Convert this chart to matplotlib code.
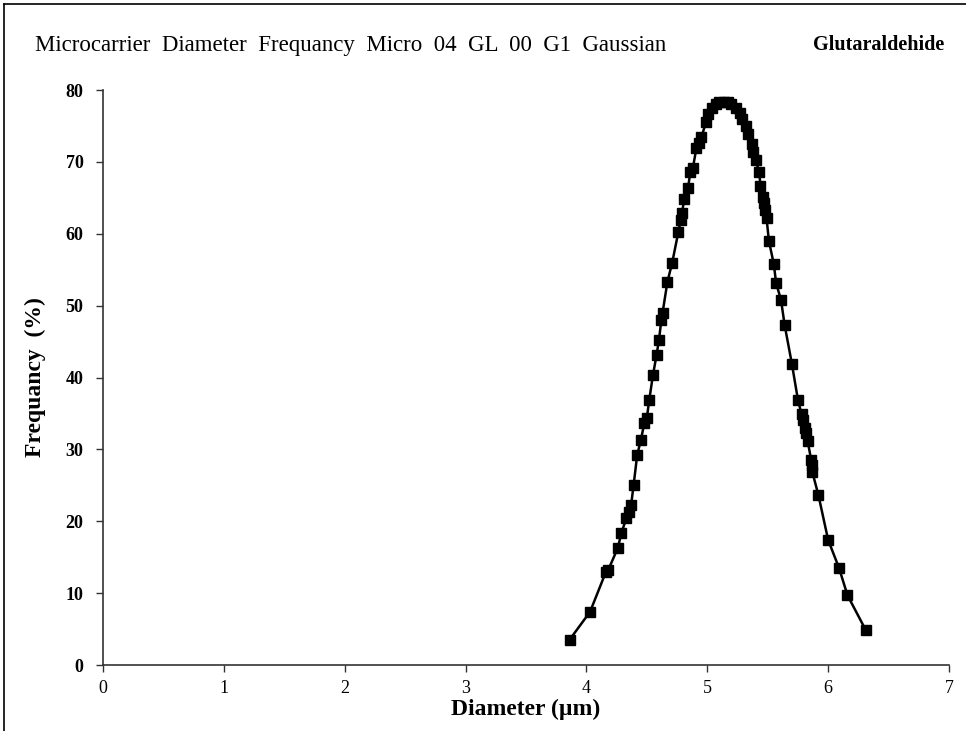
import matplotlib.pyplot as plt
import numpy as np

plt.rcParams['font.family'] = ['Liberation Serif', 'DejaVu Serif']

# diameter (um) and frequency (%)
diameter = [3.86, 4.03, 4.16, 4.18, 4.26, 4.29, 4.33, 4.35, 4.37, 4.39,
            4.42, 4.45, 4.48, 4.50, 4.52, 4.55, 4.58, 4.60, 4.62, 4.63,
            4.67, 4.71, 4.76, 4.78, 4.79, 4.81, 4.84, 4.86, 4.88, 4.91,
            4.93, 4.95, 4.99, 5.01, 5.04, 5.07, 5.10, 5.14, 5.17, 5.20,
            5.24, 5.27, 5.29, 5.32, 5.34, 5.37, 5.38, 5.40, 5.43, 5.44,
            5.46, 5.47, 5.48, 5.49, 5.51, 5.55, 5.57, 5.61, 5.64, 5.70,
            5.75, 5.78, 5.79, 5.81, 5.82, 5.83, 5.86, 5.87, 5.87, 5.92,
            6.00, 6.09, 6.16, 6.31]
frequency = [3.5, 7.4, 12.9, 13.2, 16.3, 18.4, 20.4, 21.3, 22.3, 25.0,
             29.2, 31.3, 33.7, 34.4, 36.9, 40.3, 43.1, 45.2, 48.0, 49.0,
             53.3, 56.0, 60.2, 61.9, 62.9, 64.8, 66.3, 68.6, 69.1, 71.9,
             72.6, 73.4, 75.5, 76.6, 77.5, 78.0, 78.3, 78.4, 78.4, 78.0,
             77.5, 76.8, 75.9, 75.0, 73.9, 72.5, 71.4, 70.2, 68.6, 66.6,
             65.1, 64.3, 63.3, 62.2, 59.0, 55.8, 53.1, 50.8, 47.3, 41.9,
             36.9, 34.9, 34.1, 33.0, 32.3, 31.2, 28.5, 27.8, 26.8, 23.6,
             17.4, 13.5, 9.7, 4.9]

title = "Microcarrier  Diameter  Frequancy  Micro  04  GL  00  G1  Gaussian"

fig = plt.figure(figsize=(9.66, 7.31), dpi=100)
ax = fig.add_axes([103 / 966, 1 - 665 / 731, (949 - 103) / 966, (665 - 90) / 731])

ax.plot(diameter, frequency, color='black', lw=1.8, marker='s', ms=6.5,
        mfc='black', mec='black')

ax.set_xlim(0, 7)
ax.set_ylim(0, 80)
ax.set_xticks(np.arange(0, 8, 1))
ax.set_yticks(np.arange(0, 90, 10))
ax.spines['top'].set_visible(False)
ax.spines['right'].set_visible(False)
for s in ['left', 'bottom']:
    ax.spines[s].set_color('#333333')
    ax.spines[s].set_linewidth(1.2)
ax.tick_params(direction='out', length=5, width=1, colors='#333333',
               labelsize=13, labelcolor='black')
for lab in ax.get_yticklabels():
    lab.set_fontweight('bold')
ax.tick_params(axis='x', pad=6)
ax.tick_params(axis='y', pad=9)

ax.set_xlabel("Diameter (µm)", fontsize=17, fontweight='bold', labelpad=1)
ax.set_ylabel("Frequancy  (%)", fontsize=17, fontweight='bold', labelpad=14)

fig.text(35 / 966, 1 - 45 / 731, title, fontsize=16.5, va='center', ha='left')
fig.text(944 / 966, 1 - 45 / 731, "Glutaraldehide", fontsize=14.5,
         fontweight='bold', va='center', ha='right')

# border lines of the original frame (left and top)
fig.add_artist(plt.Line2D([4 / 966, 4 / 966], [0, 1 - 4 / 731],
                          transform=fig.transFigure, color='black', lw=1.2))
fig.add_artist(plt.Line2D([4 / 966, 1], [1 - 4 / 731, 1 - 4 / 731],
                          transform=fig.transFigure, color='black', lw=1.2))

fig.savefig("out.png", dpi=100)
